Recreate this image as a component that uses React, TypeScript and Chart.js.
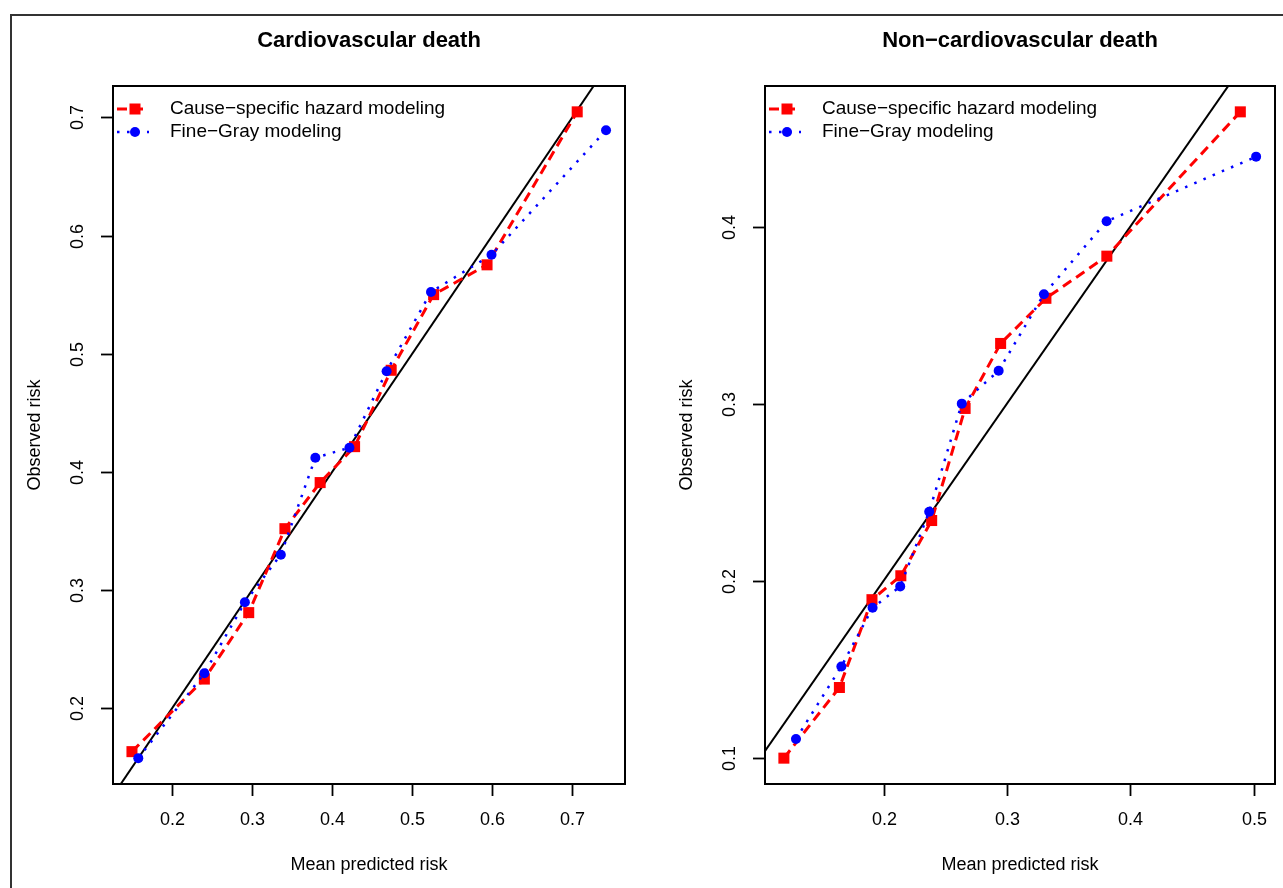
import React, { useEffect, useRef } from "react";
import { Chart, registerables } from "chart.js";

Chart.register(...registerables);

// ---------- shared text ----------
const legendLabels = ["Cause\u2212specific hazard modeling", "Fine\u2212Gray modeling"];
const xAxisTitle = "Mean predicted risk";
const yAxisTitle = "Observed risk";

// ---------- identity (y = x) reference line ----------
const identityX = [0, 1];
const identityY = [0, 1];

// ---------- Cardiovascular death ----------
const cvTitle = "Cardiovascular death";
const cvCsX = [0.150, 0.2404, 0.2958, 0.341, 0.385, 0.428, 0.4737, 0.5267, 0.5934, 0.706];
const cvCsY = [0.1634, 0.2248, 0.281, 0.352, 0.391, 0.4214, 0.486, 0.550, 0.5752, 0.7046];
const cvFgX = [0.1579, 0.2404, 0.291, 0.3359, 0.379, 0.4216, 0.468, 0.5234, 0.599, 0.742];
const cvFgY = [0.1579, 0.2297, 0.2897, 0.330, 0.412, 0.4205, 0.4852, 0.5522, 0.5837, 0.689];
const cvXTicks = [0.2, 0.3, 0.4, 0.5, 0.6, 0.7];
const cvYTicks = [0.2, 0.3, 0.4, 0.5, 0.6, 0.7];

// ---------- Non-cardiovascular death ----------
const ncvTitle = "Non\u2212cardiovascular death";
const ncvCsX = [0.1192, 0.1642, 0.1906, 0.214, 0.239, 0.2661, 0.2949, 0.3316, 0.381, 0.4892];
const ncvCsY = [0.0998, 0.1397, 0.1893, 0.2028, 0.234, 0.2973, 0.334, 0.3595, 0.3833, 0.4648];
const ncvFgX = [0.129, 0.1658, 0.1911, 0.2135, 0.237, 0.2634, 0.2933, 0.33, 0.3808, 0.502];
const ncvFgY = [0.1106, 0.1516, 0.1847, 0.1968, 0.239, 0.300, 0.3186, 0.3618, 0.403, 0.4395];
const ncvXTicks = [0.2, 0.3, 0.4, 0.5];
const ncvYTicks = [0.1, 0.2, 0.3, 0.4];

// ---------- styles ----------
const FONT = '"Liberation Sans", Arial, Helvetica, sans-serif';
const BASE = 18;
const LEGEND = 19;
const TITLE = 22;
const RED = "#ff0000";
const BLUE = "#0000ff";
const RED_DASH = [10, 6];
const BLUE_DASH = [2.5, 7.5];

function zip(xs: number[], ys: number[]) {
  return xs.map((x, i) => ({ x, y: ys[i] }));
}

function rRange(a: number[], b: number[]) {
  const all = a.concat(b);
  const lo = Math.min(...all);
  const hi = Math.max(...all);
  const pad = (hi - lo) * 0.04;
  return [lo - pad, hi + pad];
}

type PanelProps = {
  title: string;
  csX: number[];
  csY: number[];
  fgX: number[];
  fgY: number[];
  xTicks: number[];
  yTicks: number[];
  width: number;
  padding: { left: number; top: number; right: number; bottom: number };
};

function Panel(props: PanelProps) {
  const ref = useRef<HTMLCanvasElement | null>(null);

  useEffect(() => {
    const canvas = ref.current;
    if (!canvas) return;
    const [xMin, xMax] = rRange(props.csX, props.fgX);
    const [yMin, yMax] = rRange(props.csY, props.fgY);

    const rAxes = {
      id: "rAxes",
      afterDraw(chart: any) {
        const { ctx, chartArea: a, scales } = chart;
        ctx.save();
        ctx.setLineDash([]);
        // box
        ctx.strokeStyle = "#000";
        ctx.lineWidth = 2;
        ctx.strokeRect(a.left, a.top, a.right - a.left, a.bottom - a.top);

        ctx.fillStyle = "#000";
        ctx.font = `${BASE}px ${FONT}`;
        ctx.textAlign = "center";
        ctx.textBaseline = "middle";
        ctx.lineWidth = 1.8;

        // x ticks
        props.xTicks.forEach((t) => {
          const px = Math.round(scales.x.getPixelForValue(t)) + 0.5;
          ctx.beginPath();
          ctx.moveTo(px, a.bottom);
          ctx.lineTo(px, a.bottom + 12);
          ctx.stroke();
          ctx.fillText(t.toFixed(1), px, a.bottom + 36);
        });
        // y ticks
        props.yTicks.forEach((t) => {
          const py = Math.round(scales.y.getPixelForValue(t)) + 0.5;
          ctx.beginPath();
          ctx.moveTo(a.left, py);
          ctx.lineTo(a.left - 12, py);
          ctx.stroke();
          ctx.save();
          ctx.translate(a.left - 35, py);
          ctx.rotate(-Math.PI / 2);
          ctx.fillText(t.toFixed(1), 0, 0);
          ctx.restore();
        });
        // axis titles
        const cx = (a.left + a.right) / 2;
        const cy = (a.top + a.bottom) / 2;
        ctx.fillText(xAxisTitle, cx, a.bottom + 81);
        ctx.save();
        ctx.translate(a.left - 78, cy);
        ctx.rotate(-Math.PI / 2);
        ctx.fillText(yAxisTitle, 0, 0);
        ctx.restore();

        // main title
        ctx.font = `bold ${TITLE}px ${FONT}`;
        ctx.fillText(props.title, cx, 41);

        // legend
        ctx.font = `${LEGEND}px ${FONT}`;
        ctx.textAlign = "left";
        const x0 = a.left + 4;
        const x1 = a.left + 34;
        const xm = a.left + 22;
        const rows = [a.top + 23, a.top + 46];
        // red
        ctx.strokeStyle = RED;
        ctx.lineWidth = 3;
        ctx.setLineDash(RED_DASH);
        ctx.beginPath();
        ctx.moveTo(x0, rows[0]);
        ctx.lineTo(x1, rows[0]);
        ctx.stroke();
        ctx.setLineDash([]);
        ctx.fillStyle = RED;
        ctx.fillRect(xm - 5.5, rows[0] - 5.5, 11, 11);
        // blue
        ctx.strokeStyle = BLUE;
        ctx.lineWidth = 2.5;
        ctx.setLineDash(BLUE_DASH);
        ctx.beginPath();
        ctx.moveTo(x0, rows[1]);
        ctx.lineTo(x1 + 2, rows[1]);
        ctx.stroke();
        ctx.setLineDash([]);
        ctx.fillStyle = BLUE;
        ctx.beginPath();
        ctx.arc(xm, rows[1], 5, 0, Math.PI * 2);
        ctx.fill();
        ctx.fillStyle = "#000";
        ctx.fillText(legendLabels[0], a.left + 57, rows[0]);
        ctx.fillText(legendLabels[1], a.left + 57, rows[1]);
        ctx.restore();
      },
    };

    const chart = new Chart(canvas, {
      type: "scatter",
      data: {
        datasets: [
          {
            label: "identity",
            data: zip(identityX, identityY),
            showLine: true,
            borderColor: "#000",
            borderWidth: 2,
            pointRadius: 0,
            order: 2,
          },
          {
            label: legendLabels[0],
            data: zip(props.csX, props.csY),
            showLine: true,
            borderColor: RED,
            backgroundColor: RED,
            borderWidth: 3,
            borderDash: RED_DASH,
            pointStyle: "rect",
            pointRadius: 7.8,
            pointBorderWidth: 0,
            pointBackgroundColor: RED,
            pointBorderColor: RED,
            order: 1,
          },
          {
            label: legendLabels[1],
            data: zip(props.fgX, props.fgY),
            showLine: true,
            borderColor: BLUE,
            backgroundColor: BLUE,
            borderWidth: 2.5,
            borderDash: BLUE_DASH,
            pointStyle: "circle",
            pointRadius: 5,
            pointBorderWidth: 0,
            pointBackgroundColor: BLUE,
            pointBorderColor: BLUE,
            order: 0,
          },
        ],
      },
      options: {
        animation: false,
        responsive: false,
        devicePixelRatio: 1,
        layout: { padding: props.padding },
        plugins: {
          legend: { display: false },
          title: { display: false },
          tooltip: { enabled: false },
        },
        scales: {
          x: { type: "linear", min: xMin, max: xMax, display: false },
          y: { type: "linear", min: yMin, max: yMax, display: false },
        },
      },
      plugins: [rAxes],
    } as any);
    return () => chart.destroy();
  }, []);

  return <canvas ref={ref} width={props.width} height={888} style={{ display: "block" }} />;
}

export default function App() {
  useEffect(() => {
    document.body.style.margin = "0";
  }, []);
  return (
    <div
      style={{
        position: "absolute",
        left: 0,
        top: 0,
        width: 1283,
        height: 888,
        overflow: "hidden",
        background: "#fff",
      }}
    >
      <div
        style={{
          position: "absolute",
          left: 10,
          top: 14,
          width: 3000,
          height: 3000,
          borderTop: "2px solid #333",
          borderLeft: "2px solid #333",
        }}
      />
      <div style={{ position: "absolute", left: 0, top: 0 }}>
        <Panel
          title={cvTitle}
          csX={cvCsX}
          csY={cvCsY}
          fgX={cvFgX}
          fgY={cvFgY}
          xTicks={cvXTicks}
          yTicks={cvYTicks}
          width={640}
          padding={{ left: 113, top: 86, right: 15, bottom: 104 }}
        />
      </div>
      <div style={{ position: "absolute", left: 640, top: 0 }}>
        <Panel
          title={ncvTitle}
          csX={ncvCsX}
          csY={ncvCsY}
          fgX={ncvFgX}
          fgY={ncvFgY}
          xTicks={ncvXTicks}
          yTicks={ncvYTicks}
          width={643}
          padding={{ left: 125, top: 86, right: 8, bottom: 104 }}
        />
      </div>
    </div>
  );
}
